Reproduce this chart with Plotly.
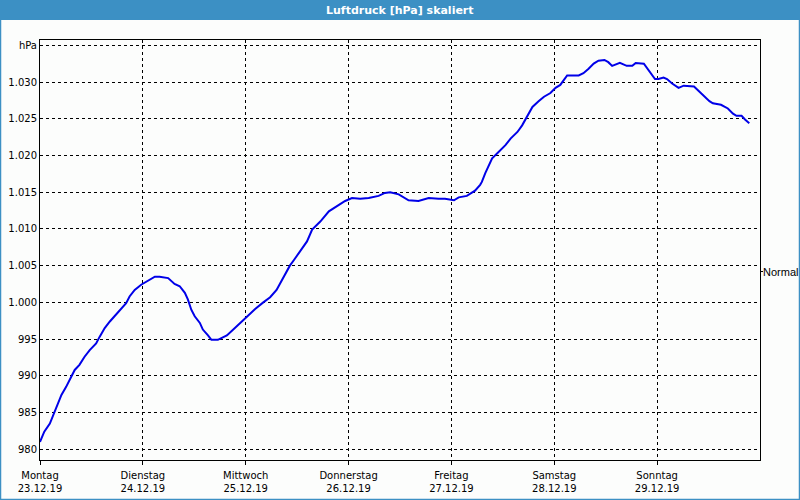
import plotly.graph_objects as go

# ---- data ----
hours = [0.0, 1.0, 2.3, 3.4, 4.2, 5.0, 6.1, 7.3, 8.1, 9.2, 10.4, 11.6, 13.1, 13.9, 15.1,
         16.3, 17.4, 19.0, 20.1, 20.9, 22.1, 23.6, 24.4, 25.6, 26.8, 27.9, 29.9, 31.4,
         32.6, 33.8, 34.5, 35.3, 36.1, 37.3, 38.0, 39.2, 40.0, 41.5, 43.6, 45.1, 46.7,
         48.2, 50.2, 52.1, 53.7, 55.2, 56.7, 57.2, 58.3, 59.3, 61.1, 62.3, 63.5, 65.4,
         67.4, 69.7, 71.2, 72.8, 74.7, 76.7, 79.0, 80.5, 81.7, 83.7, 86.0, 88.3, 90.7,
         93.0, 94.5, 96.6, 97.7, 99.6, 101.5, 102.7, 103.1, 103.9, 105.5, 106.7, 108.6,
         109.8, 111.4, 112.5, 113.7, 114.9, 116.4, 117.6, 119.1, 120.3, 121.4, 123.0,
         125.7, 126.8, 128.0, 129.2, 130.3, 131.7, 132.6, 133.5, 135.3, 136.9, 138.2,
         139.0, 140.9, 141.7, 142.8, 143.5, 144.3, 145.5, 146.3, 147.5, 149.0, 150.2,
         152.6, 153.8, 155.0, 156.2, 157.0, 158.9, 160.5, 161.7, 162.5, 163.7, 164.5,
         165.5]
pressure = [981.0, 982.4, 983.5, 985.1, 986.5, 987.4, 988.5, 989.9, 990.8, 991.5, 992.6,
            993.5, 994.4, 995.3, 996.5, 997.4, 998.1, 999.2, 999.9, 1000.8, 1001.7,
            1002.4, 1002.7, 1003.1, 1003.5, 1003.5, 1003.3, 1002.5, 1002.2, 1001.3,
            1000.4, 999.0, 998.1, 997.2, 996.3, 995.5, 994.9, 994.9, 995.5, 996.3, 997.2,
            998.0, 999.1, 1000.0, 1000.7, 1001.7, 1003.3, 1003.8, 1005.0, 1005.8, 1007.4,
            1008.3, 1009.9, 1011.0, 1012.4, 1013.3, 1013.8, 1014.2, 1014.1, 1014.2,
            1014.5, 1014.9, 1015.0, 1014.7, 1013.9, 1013.8, 1014.2, 1014.1, 1014.1,
            1013.9, 1014.3, 1014.5, 1015.2, 1016.0, 1016.4, 1017.6, 1019.6, 1020.3,
            1021.4, 1022.3, 1023.2, 1024.1, 1025.3, 1026.6, 1027.4, 1028.0, 1028.5,
            1029.2, 1029.6, 1030.9, 1030.9, 1031.2, 1031.8, 1032.5, 1032.9, 1033.0,
            1032.7, 1032.2, 1032.6, 1032.2, 1032.2, 1032.6, 1032.5, 1031.9, 1031.0,
            1030.4, 1030.4, 1030.6, 1030.4, 1029.8, 1029.2, 1029.5, 1029.4, 1028.7,
            1028.0, 1027.4, 1027.1, 1026.9, 1026.4, 1025.7, 1025.4, 1025.4, 1024.9,
            1024.4]
day_names = ["Montag", "Dienstag", "Mittwoch", "Donnerstag", "Freitag", "Samstag", "Sonntag"]
day_dates = ["23.12.19", "24.12.19", "25.12.19", "26.12.19", "27.12.19", "28.12.19", "29.12.19"]
day_hours = [0, 24, 48, 72, 96, 120, 144]
y_ticks = [980, 985, 990, 995, 1000, 1005, 1010, 1015, 1020, 1025, 1030, 1035]
y_labels = ["980", "985", "990", "995", "1.000", "1.005", "1.010", "1.015", "1.020",
            "1.025", "1.030", "hPa"]
normal_value = 1004.2
normal_label = "Normal"
title_text = "Luftdruck [hPa] skaliert"

# ---- layout helpers ----
W, H = 800, 500
L, R, T, B = 40, 40, 40, 40
PW, PH = W - L - R, H - T - B


def px(x):
    return (x - L) / PW


def py(y):
    return (H - B - y) / PH


BLUE = "#3c90c4"
FONT = "DejaVu Sans"

fig = go.Figure(go.Scatter(x=hours, y=pressure, mode="lines",
                           line=dict(color="#0000e8", width=2), hoverinfo="skip"))

axis_common = dict(showgrid=True, gridcolor="black", gridwidth=1, griddash="3px,3px",
                   showline=True, mirror=True, linecolor="black", linewidth=1,
                   zeroline=False, fixedrange=True)

fig.update_layout(
    width=W, height=H,
    margin=dict(l=L, r=R, t=T, b=B, autoexpand=False),
    paper_bgcolor="#fcfdfc", plot_bgcolor="#fcfdfc",
    showlegend=False,
    font=dict(family=FONT, size=10, color="black"),
    xaxis=dict(range=[0, 168], tickmode="array", tickvals=day_hours,
               ticktext=[f"{n}<br>{d}" for n, d in zip(day_names, day_dates)],
               ticks="outside", ticklen=4, tickcolor="black", ticklabelstandoff=2,
               **axis_common),
    yaxis=dict(range=[978.54, 1035.72], tickmode="array", tickvals=y_ticks,
               ticktext=y_labels, ticks="", **axis_common),
    shapes=[
        dict(type="rect", xref="paper", yref="paper", x0=px(0), x1=px(W), y0=py(20), y1=py(0),
             fillcolor=BLUE, line=dict(width=0), layer="above"),
        dict(type="rect", xref="paper", yref="paper", x0=px(0.5), x1=px(W - 0.5),
             y0=py(H - 0.5), y1=py(0.5), line=dict(color=BLUE, width=1.5), layer="above"),
        dict(type="line", xref="paper", yref="y", x0=1, x1=px(L + PW + 3),
             y0=normal_value, y1=normal_value, line=dict(color="black", width=1)),
    ],
    annotations=[
        dict(text=f"<b>{title_text}</b>", xref="paper", yref="paper", x=0.5, y=py(10),
             xanchor="center", yanchor="middle", showarrow=False,
             font=dict(family=FONT, size=11, color="white")),
        dict(text=normal_label, xref="paper", yref="y", x=px(L + PW + 2), y=normal_value,
             xanchor="left", yanchor="middle", showarrow=False, borderpad=0,
             font=dict(family="Liberation Sans", size=11, color="black")),
    ],
)

fig.write_html("out.html", config={"displayModeBar": False, "staticPlot": True})
